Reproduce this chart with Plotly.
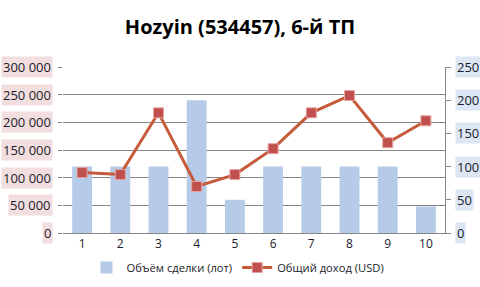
import plotly.graph_objects as go

categories = [1, 2, 3, 4, 5, 6, 7, 8, 9, 10]
volume_lots = [120000, 120000, 120000, 240000, 60000, 120000, 120000, 120000, 120000, 48000]
income_usd = [91, 88, 181, 70, 88, 127, 181, 207, 136, 169]
left_ticks = [0, 50000, 100000, 150000, 200000, 250000, 300000]
left_labels = ["0", "50 000", "100 000", "150 000", "200 000", "250 000", "300 000"]
right_ticks = [0, 50, 100, 150, 200, 250]
right_labels = ["0", "50", "100", "150", "200", "250"]

FONT = "Open Sans"
TXT = "#1b1b2b"

fig = go.Figure()
fig.add_trace(go.Bar(
    x=categories, y=volume_lots, name="Объём сделки (лот)",
    marker=dict(color="#B6CBE7", line=dict(width=0)), width=0.52,
))
fig.add_trace(go.Scatter(
    x=categories, y=income_usd, name="Общий доход (USD)", yaxis="y2",
    mode="lines+markers",
    line=dict(color="#C65B3B", width=3),
    marker=dict(symbol="square", size=10, color="#C0504D",
                line=dict(color="#E6A3A1", width=1)),
))

annotations = []
for v, t in zip(left_ticks, left_labels):
    annotations.append(dict(
        x=0, xref="paper", y=v, yref="y", text=t, showarrow=False,
        xanchor="right", yanchor="middle", xshift=-10,
        font=dict(family=FONT, size=13, color=TXT),
        bgcolor="#F2DEDE", borderpad=1))
for v, t in zip(right_ticks, right_labels):
    annotations.append(dict(
        x=1, xref="paper", y=v, yref="y2", text=t, showarrow=False,
        xanchor="left", yanchor="middle", xshift=10,
        font=dict(family=FONT, size=13, color=TXT),
        bgcolor="#DCE6F4", borderpad=1))

fig.update_layout(
    width=480, height=287,
    margin=dict(l=63, r=35, t=67, b=54, autoexpand=False),
    paper_bgcolor="white", plot_bgcolor="white",
    font=dict(family=FONT, size=11, color=TXT),
    title=dict(text="<b>Hozyin (534457), 6-й ТП</b>", x=0.5, xanchor="center",
               y=0.905, yanchor="middle", font=dict(size=20, color="black")),
    showlegend=True,
    legend=dict(orientation="h", x=0.458, xanchor="center", y=-0.208,
                yanchor="middle", font=dict(size=11.2),
                bgcolor="rgba(0,0,0,0)", itemwidth=30),
    annotations=annotations,
    xaxis=dict(range=[0.5, 10.5], tickmode="array", tickvals=categories,
               ticktext=[str(c) for c in categories], showgrid=False,
               showline=True, linecolor="#868686", linewidth=1, ticks="",
               zeroline=False, tickfont=dict(size=12)),
    yaxis=dict(range=[0, 300000], tickmode="array", tickvals=left_ticks,
               showticklabels=False, showgrid=True, gridcolor="#868686",
               gridwidth=1, zeroline=False, showline=False, ticks="outside",
               ticklen=4, tickcolor="#868686"),
    yaxis2=dict(range=[0, 250], overlaying="y", side="right", tickmode="array",
                tickvals=right_ticks, showticklabels=False, showgrid=False,
                zeroline=False, showline=True, linecolor="#868686",
                linewidth=1, ticks="outside", ticklen=5, tickcolor="#868686"),
)

fig.write_html("out.html")
